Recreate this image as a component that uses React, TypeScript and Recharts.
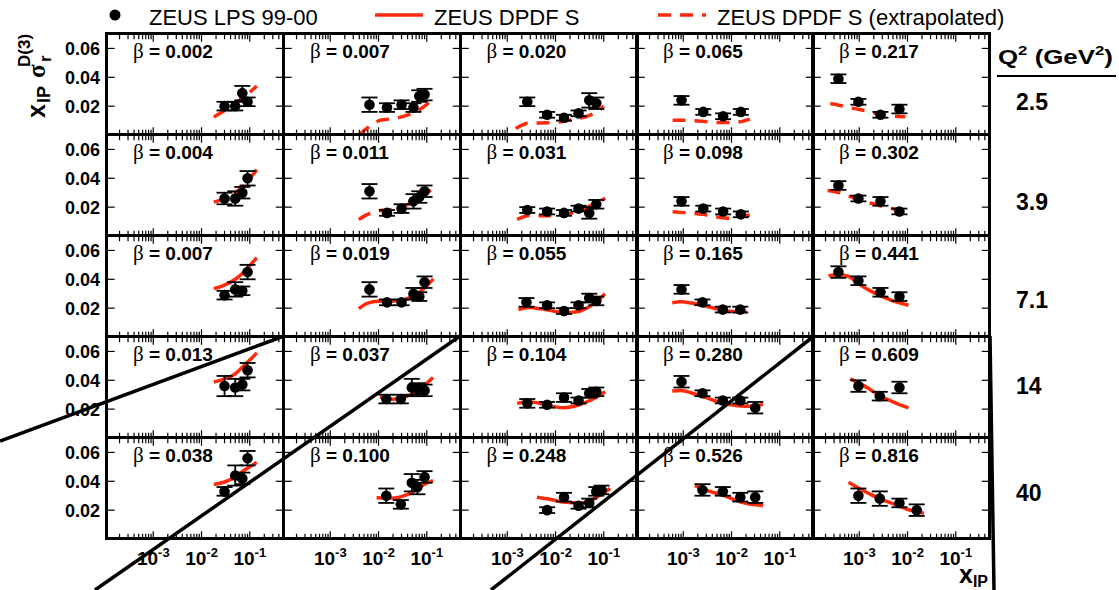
import React from 'react';
import { ComposedChart, LineChart, Line, Scatter, XAxis, YAxis, ErrorBar } from 'recharts';

const RED = '#ff2a0a';
const SANS = '"Liberation Sans", Arial, Helvetica, sans-serif';
const SERIF = '"Liberation Serif", "DejaVu Serif", serif';

const Q2_LABELS = ['2.5', '3.9', '7.1', '14', '40'];
const BETA_LABELS = [
  ['0.002', '0.007', '0.020', '0.065', '0.217'],
  ['0.004', '0.011', '0.031', '0.098', '0.302'],
  ['0.007', '0.019', '0.055', '0.165', '0.441'],
  ['0.013', '0.037', '0.104', '0.280', '0.609'],
  ['0.038', '0.100', '0.248', '0.526', '0.816'],
];

const X_DOMAIN = [1.1e-4, 0.5];
const X_MAJOR = [0.001, 0.01, 0.1];
const X_MINOR = [
  0.0002, 0.0003, 0.0004, 0.0005, 0.0006, 0.0007, 0.0008, 0.0009,
  0.002, 0.003, 0.004, 0.005, 0.006, 0.007, 0.008, 0.009,
  0.02, 0.03, 0.04, 0.05, 0.06, 0.07, 0.08, 0.09,
  0.2, 0.3, 0.4, 0.5,
];
const Y_DOMAIN = [0, 0.07];
const Y_TICKS = [0.02, 0.04, 0.06];

// measured points [xIP, value, error], one list per beta column
const PTS_Q2_2_5 = [
  [[0.03, 0.020, 0.003], [0.05, 0.020, 0.003], [0.07, 0.029, 0.005], [0.09, 0.023, 0.003]],
  [[0.0065, 0.021, 0.005], [0.015, 0.019, 0.003], [0.03, 0.021, 0.003], [0.053, 0.019, 0.003], [0.07, 0.027, 0.004], [0.09, 0.028, 0.004]],
  [[0.0026, 0.023, 0.003], [0.0067, 0.014, 0.002], [0.015, 0.012, 0.002], [0.03, 0.015, 0.002], [0.05, 0.024, 0.005], [0.07, 0.022, 0.004]],
  [[0.00092, 0.024, 0.003], [0.0026, 0.016, 0.002], [0.0067, 0.013, 0.002], [0.0156, 0.016, 0.002]],
  [[0.00037, 0.039, 0.003], [0.00096, 0.023, 0.002], [0.00275, 0.014, 0.002], [0.0068, 0.018, 0.003]],
];
const PTS_Q2_3_9 = [
  [[0.03, 0.026, 0.004], [0.05, 0.026, 0.005], [0.07, 0.030, 0.004], [0.09, 0.040, 0.005]],
  [[0.0065, 0.031, 0.005], [0.015, 0.016, 0.002], [0.03, 0.019, 0.003], [0.053, 0.024, 0.005], [0.07, 0.027, 0.004], [0.09, 0.031, 0.004]],
  [[0.0026, 0.018, 0.002], [0.0067, 0.017, 0.002], [0.015, 0.016, 0.002], [0.03, 0.019, 0.002], [0.05, 0.016, 0.004], [0.07, 0.022, 0.003]],
  [[0.00092, 0.024, 0.003], [0.0026, 0.019, 0.002], [0.0067, 0.017, 0.002], [0.0156, 0.015, 0.002]],
  [[0.00037, 0.035, 0.003], [0.00096, 0.026, 0.002], [0.00275, 0.024, 0.003], [0.0068, 0.017, 0.002]],
];
const PTS_Q2_7_1 = [
  [[0.03, 0.029, 0.003], [0.05, 0.033, 0.005], [0.07, 0.032, 0.003], [0.09, 0.045, 0.005]],
  [[0.0065, 0.033, 0.005], [0.015, 0.024, 0.002], [0.03, 0.024, 0.002], [0.053, 0.030, 0.004], [0.07, 0.028, 0.003], [0.09, 0.038, 0.004]],
  [[0.0025, 0.024, 0.003], [0.0067, 0.022, 0.002], [0.015, 0.018, 0.002], [0.03, 0.022, 0.002], [0.05, 0.027, 0.003], [0.07, 0.025, 0.003]],
  [[0.00092, 0.033, 0.003], [0.0025, 0.024, 0.002], [0.0066, 0.019, 0.002], [0.0152, 0.019, 0.002]],
  [[0.00037, 0.045, 0.004], [0.00096, 0.039, 0.003], [0.00275, 0.031, 0.003], [0.0068, 0.028, 0.003]],
];
const PTS_Q2_14 = [
  [[0.03, 0.036, 0.007], [0.05, 0.035, 0.006], [0.07, 0.037, 0.004], [0.09, 0.047, 0.005]],
  [[0.0145, 0.027, 0.003], [0.029, 0.027, 0.003], [0.049, 0.035, 0.006], [0.064, 0.034, 0.004], [0.09, 0.033, 0.004]],
  [[0.0026, 0.024, 0.003], [0.0067, 0.023, 0.002], [0.015, 0.028, 0.003], [0.03, 0.026, 0.002], [0.05, 0.031, 0.003], [0.07, 0.032, 0.003]],
  [[0.00092, 0.039, 0.004], [0.0025, 0.031, 0.002], [0.0066, 0.026, 0.002], [0.0152, 0.026, 0.002], [0.031, 0.021, 0.004]],
  [[0.00096, 0.036, 0.004], [0.00266, 0.029, 0.003], [0.0068, 0.035, 0.004]],
];
const PTS_Q2_40 = [
  [[0.03, 0.033, 0.003], [0.05, 0.044, 0.007], [0.07, 0.042, 0.004], [0.09, 0.056, 0.005]],
  [[0.0145, 0.030, 0.005], [0.029, 0.024, 0.003], [0.049, 0.039, 0.006], [0.064, 0.036, 0.005], [0.09, 0.043, 0.004]],
  [[0.0067, 0.020, 0.002], [0.015, 0.029, 0.003], [0.03, 0.023, 0.002], [0.05, 0.025, 0.003], [0.07, 0.033, 0.003], [0.09, 0.034, 0.003]],
  [[0.0025, 0.034, 0.004], [0.0066, 0.033, 0.003], [0.0152, 0.029, 0.003], [0.031, 0.029, 0.004]],
  [[0.00096, 0.030, 0.005], [0.00266, 0.028, 0.005], [0.0068, 0.025, 0.003], [0.0155, 0.020, 0.004]],
];

// ZEUS DPDF S curves [xIP, value]
const FIT_Q2_2_5 = [
  [[0.018, 0.0125], [0.03, 0.017], [0.05, 0.022], [0.08, 0.027], [0.14, 0.034]],
  [[0.0039, 0.0], [0.006, 0.005], [0.01, 0.0098], [0.016, 0.011], [0.03, 0.0126], [0.054, 0.0155], [0.09, 0.02], [0.127, 0.0245]],
  [[0.0015, 0.0045], [0.0028, 0.0082], [0.0078, 0.0085], [0.015, 0.0095], [0.024, 0.011], [0.045, 0.013], [0.072, 0.016], [0.1, 0.02]],
  [[0.0006, 0.0102], [0.001, 0.0102], [0.0025, 0.0095], [0.006, 0.0086], [0.015, 0.0092], [0.024, 0.011]],
  [[0.00025, 0.0218], [0.0004, 0.0205], [0.0008, 0.0183], [0.0015, 0.0165], [0.0025, 0.0148], [0.005, 0.0132], [0.009, 0.0126]],
];
const FIT_Q2_3_9 = [
  [[0.018, 0.0235], [0.03, 0.026], [0.05, 0.03], [0.08, 0.036], [0.14, 0.046]],
  [[0.0039, 0.0115], [0.0055, 0.0145], [0.008, 0.0168], [0.012, 0.0178], [0.02, 0.0185], [0.035, 0.021], [0.06, 0.025], [0.09, 0.029], [0.127, 0.032]],
  [[0.0016, 0.0115], [0.003, 0.0142], [0.006, 0.014], [0.01, 0.014], [0.02, 0.0156], [0.035, 0.018], [0.072, 0.0235], [0.108, 0.026]],
  [[0.0006, 0.0168], [0.001, 0.0162], [0.0025, 0.015], [0.005, 0.0132], [0.01, 0.0122], [0.015, 0.0132], [0.024, 0.0145]],
  [[0.00022, 0.0316], [0.0004, 0.03], [0.0007, 0.027], [0.0012, 0.024], [0.002, 0.0222], [0.0035, 0.02], [0.0055, 0.0185], [0.009, 0.0167]],
];
const FIT_Q2_7_1 = [
  [[0.018, 0.0335], [0.03, 0.036], [0.05, 0.04], [0.07, 0.044], [0.1, 0.0495], [0.14, 0.055]],
  [[0.0039, 0.0197], [0.006, 0.0235], [0.01, 0.0248], [0.02, 0.0249], [0.035, 0.026], [0.055, 0.0288], [0.09, 0.034], [0.137, 0.0403]],
  [[0.0017, 0.019], [0.0028, 0.0205], [0.005, 0.0195], [0.009, 0.018], [0.015, 0.0168], [0.028, 0.0175], [0.05, 0.021], [0.08, 0.026], [0.106, 0.03]],
  [[0.00059, 0.0237], [0.0009, 0.0245], [0.0015, 0.0235], [0.0025, 0.022], [0.0045, 0.0198], [0.0066, 0.0185], [0.012, 0.0175], [0.0207, 0.0174]],
  [[0.00023, 0.0425], [0.0004, 0.0432], [0.0006, 0.042], [0.001, 0.0365], [0.0017, 0.032], [0.0027, 0.0288], [0.005, 0.025], [0.0105, 0.022]],
];
const FIT_Q2_14 = [
  [[0.018, 0.0388], [0.03, 0.041], [0.05, 0.0445], [0.07, 0.049], [0.1, 0.054], [0.14, 0.059]],
  [[0.0107, 0.0283], [0.02, 0.0268], [0.03, 0.0275], [0.045, 0.03], [0.072, 0.0345], [0.1, 0.038], [0.135, 0.042]],
  [[0.0016, 0.024], [0.0026, 0.0252], [0.004, 0.0245], [0.0067, 0.0226], [0.015, 0.021], [0.032, 0.0232], [0.06, 0.027], [0.107, 0.032]],
  [[0.00059, 0.0325], [0.0009, 0.033], [0.0015, 0.0312], [0.0025, 0.0288], [0.0066, 0.0242], [0.015, 0.0222], [0.025, 0.022], [0.045, 0.0233]],
  [[0.00065, 0.041], [0.001, 0.038], [0.0017, 0.0335], [0.00266, 0.0295], [0.005, 0.025], [0.0105, 0.0208]],
];
const FIT_Q2_40 = [
  [[0.018, 0.0378], [0.03, 0.0395], [0.05, 0.043], [0.08, 0.048], [0.14, 0.053]],
  [[0.0091, 0.0286], [0.015, 0.0283], [0.022, 0.0285], [0.038, 0.0305], [0.06, 0.034], [0.09, 0.038], [0.135, 0.0405]],
  [[0.0041, 0.029], [0.0067, 0.0279], [0.015, 0.0256], [0.032, 0.025], [0.06, 0.0275], [0.09, 0.031], [0.136, 0.035]],
  [[0.00175, 0.037], [0.0025, 0.035], [0.004, 0.0325], [0.0066, 0.0305], [0.012, 0.027], [0.02, 0.0248], [0.045, 0.0233]],
  [[0.0006, 0.0393], [0.001, 0.035], [0.0017, 0.031], [0.0027, 0.0278], [0.005, 0.0245], [0.01, 0.0205], [0.022, 0.0178]],
];

const POINTS = [PTS_Q2_2_5, PTS_Q2_3_9, PTS_Q2_7_1, PTS_Q2_14, PTS_Q2_40];
const FITS = [FIT_Q2_2_5, FIT_Q2_3_9, FIT_Q2_7_1, FIT_Q2_14, FIT_Q2_40];
const EXTRAPOLATED_ROWS = [0, 1];

// stray black lines lying across the figure, in page pixels
const STRAY_LINES = [
  [[0, 441], [284, 336]],
  [[95, 590], [460, 336]],
  [[491, 590], [814, 336]],
  [[990, 336], [994, 590]],
];

const COL_X = [107, 284, 460.5, 637, 813];
const ROW_Y = [33.5, 134.5, 235.5, 336.5, 437.5];
const Q2_LABEL_Y = [102, 202, 300, 386, 493];
const PW = 176.5;
const PH = 101;
const BORDER = 3.5;

const dotShape = (p: any) => <circle cx={p.cx} cy={p.cy} r={5.3} fill="#000" />;

function Panel({ r, c }: { r: number; c: number }) {
  const yw = c === 0 ? 90 : 1;
  const xh = r === 4 ? 40 : 1;
  const pts = POINTS[r][c].map(([x, y, e]) => ({ x, y, e }));
  const fit = FITS[r][c].map(([x, y]) => ({ x, y }));
  const dashed = EXTRAPOLATED_ROWS.includes(r);

  const xTick = (p: any) => {
    const v = p.payload.value;
    const major = X_MAJOR.includes(v);
    const len = (major ? 6 : 3.5) + BORDER / 2;
    return (
      <g>
        <line x1={p.x} x2={p.x} y1={0} y2={len} stroke="#000" strokeWidth={1.2} />
        <line x1={p.x} x2={p.x} y1={PH - len} y2={PH} stroke="#000" strokeWidth={1.2} />
        {r === 4 && major && (
          <text x={p.x} y={PH + 26} textAnchor="middle" fontFamily={SANS} fontWeight="bold" fontSize={19} fill="#000">
            10<tspan dy={-8} fontSize={13}>{Math.round(Math.log10(v))}</tspan>
          </text>
        )}
      </g>
    );
  };

  const yTick = (p: any) => {
    const v = p.payload.value;
    const len = 6 + BORDER / 2;
    return (
      <g>
        <line x1={yw} x2={yw + len} y1={p.y} y2={p.y} stroke="#000" strokeWidth={1.2} />
        <line x1={yw + PW - len} x2={yw + PW} y1={p.y} y2={p.y} stroke="#000" strokeWidth={1.2} />
        {c === 0 && (
          <text x={yw - 7} y={p.y + 6.5} textAnchor="end" fontFamily={SANS} fontWeight="bold" fontSize={18} fill="#000">
            {v.toFixed(2)}
          </text>
        )}
      </g>
    );
  };

  return (
    <div style={{ position: 'absolute', left: COL_X[c] - yw, top: ROW_Y[r] }}>
      <ComposedChart width={PW + yw} height={PH + xh} margin={{ top: 0, right: 0, bottom: 0, left: 0 }}>
        <XAxis type="number" dataKey="x" scale="log" domain={X_DOMAIN} allowDataOverflow ticks={[...X_MAJOR, ...X_MINOR]}
          interval={0} tick={xTick} tickLine={false} axisLine={false} height={xh} />
        <YAxis type="number" dataKey="y" domain={Y_DOMAIN} allowDataOverflow ticks={Y_TICKS}
          interval={0} tick={yTick} tickLine={false} axisLine={false} width={yw} />
        <Line data={fit} dataKey="y" type="monotone" stroke={RED} strokeWidth={3.5}
          strokeDasharray={dashed ? '13 9' : undefined} dot={false} isAnimationActive={false} />
        <Scatter data={pts} dataKey="y" fill="#000" shape={dotShape} isAnimationActive={false}>
          <ErrorBar dataKey="e" direction="y" width={8} stroke="#000" strokeWidth={1.8} />
        </Scatter>
      </ComposedChart>
    </div>
  );
}

function StrayLines() {
  return (
    <div style={{ position: 'absolute', left: 0, top: 0, pointerEvents: 'none' }}>
      <LineChart width={1119} height={590} margin={{ top: 0, right: 0, bottom: 0, left: 0 }}>
        <XAxis type="number" dataKey="x" domain={[0, 1119]} hide />
        <YAxis type="number" domain={[0, 590]} reversed hide />
        {STRAY_LINES.map((seg, i) => (
          <Line key={i} data={seg.map(([x, y]) => ({ x, y }))} dataKey="y" stroke="#000" strokeWidth={3.5}
            dot={false} isAnimationActive={false} />
        ))}
      </LineChart>
    </div>
  );
}

export default function App() {
  const rows = [0, 1, 2, 3, 4];
  const cols = [0, 1, 2, 3, 4];
  return (
    <div style={{ position: 'absolute', left: 0, top: 0, width: 1119, height: 590, background: '#fff', overflow: 'hidden' }}>
      {rows.map((r) => cols.map((c) => <Panel key={`${r}-${c}`} r={r} c={c} />))}
      {rows.map((r) => cols.map((c) => (
        <div key={`f${r}-${c}`} style={{
          position: 'absolute', left: COL_X[c] - BORDER / 2, top: ROW_Y[r] - BORDER / 2,
          width: PW + BORDER, height: PH + BORDER, border: `${BORDER}px solid #000`, boxSizing: 'border-box',
        }} />
      )))}
      <svg width={1119} height={590} style={{ position: 'absolute', left: 0, top: 0 }}>
        {/* legend */}
        <circle cx={115} cy={15} r={5.5} fill="#000" />
        <text x={149} y={25} fontFamily={SANS} fontSize={22} fill="#000">ZEUS LPS 99-00</text>
        <line x1={375} x2={423} y1={15} y2={15} stroke={RED} strokeWidth={3.5} />
        <text x={434} y={25} fontFamily={SANS} fontSize={22} fill="#000">ZEUS DPDF S</text>
        <line x1={658} x2={706} y1={15} y2={15} stroke={RED} strokeWidth={3.5} strokeDasharray="13 9" />
        <text x={717} y={25} fontFamily={SANS} fontSize={22} fill="#000">ZEUS DPDF S (extrapolated)</text>

        {/* beta labels */}
        {rows.map((r) => cols.map((c) => (
          <text key={`b${r}-${c}`} x={COL_X[c] + 26} y={ROW_Y[r] + 24} fontFamily={SANS} fontWeight="bold" fontSize={19} fill="#000">
            <tspan fontFamily={SERIF} fontWeight="normal" fontSize={21}>β</tspan> = {BETA_LABELS[r][c]}
          </text>
        )))}

        {/* Q2 column */}
        <text x={998} y={64} fontFamily={SANS} fontWeight="bold" fontSize={20} fill="#000" textLength={115} lengthAdjust="spacingAndGlyphs">
          Q<tspan dy={-9} fontSize={13}>2</tspan><tspan dy={9}> (GeV</tspan><tspan dy={-9} fontSize={13}>2</tspan><tspan dy={9}>)</tspan>
        </text>
        <line x1={997} x2={1116} y1={76} y2={76} stroke="#000" strokeWidth={2} />
        {Q2_LABEL_Y.map((cy, i) => (
          <text key={`q${i}`} x={1016} y={cy + 8} fontFamily={SANS} fontWeight="bold" fontSize={23} fill="#000">
            {Q2_LABELS[i]}
          </text>
        ))}

        {/* axis titles */}
        <g transform="translate(45,118) rotate(-90)" fontFamily={SANS} fontWeight="bold" fill="#000">
          <text x={0} y={0} fontSize={25}>x</text>
          <text x={15} y={5} fontSize={18}>IP</text>
          <text x={40} y={0} fontSize={25} fontFamily={SERIF}>σ</text>
          <text x={56} y={6} fontSize={17}>r</text>
          <text x={51} y={-15} fontSize={17}>D(3)</text>
        </g>
        <text x={959} y={583} fontFamily={SANS} fontWeight="bold" fontSize={25} fill="#000">
          x<tspan dy={4} fontSize={16}>IP</tspan>
        </text>
      </svg>
      <StrayLines />
    </div>
  );
}
